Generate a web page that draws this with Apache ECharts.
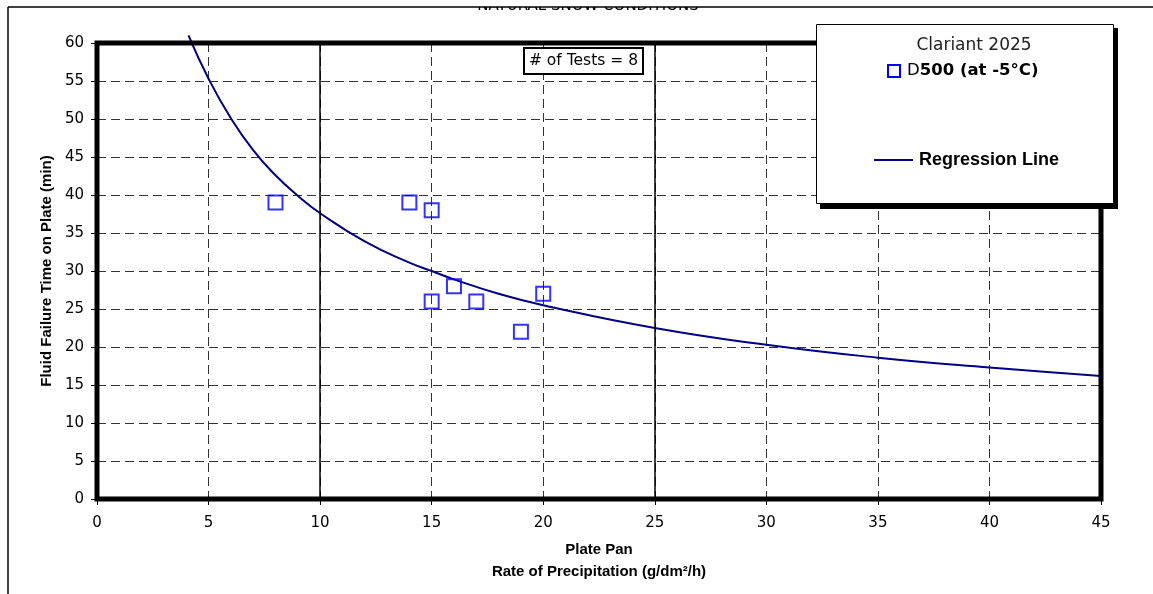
<!DOCTYPE html>
<html>
<head>
<meta charset="utf-8">
<script src="https://cdn.jsdelivr.net/npm/echarts@6/dist/echarts.min.js"></script>
<style>
html,body{margin:0;padding:0;background:#fff;}
#chart{width:1153px;height:594px;}
</style>
</head>
<body>
<div id="chart"></div>
<script>
// Measured tests: rate of precipitation (g/dm²/h) and failure time (min)
const testRate = [8, 14, 15, 15, 16, 17, 19, 20];
const testTime = [39, 39, 38, 26, 28, 26, 22, 27];
// Regression line
const regRate = [4.1, 5, 6, 7, 8, 9, 10, 12, 14, 15, 16, 18, 20, 25, 30, 35, 40, 45];
const regTime = [61.0, 55.3, 50.1, 45.9, 42.6, 39.9, 37.6, 33.9, 31.1, 30.0, 28.9, 27.0, 25.5, 22.5, 20.3, 18.6, 17.3, 16.2];
const solidGridX = [10, 25];
const chartTitle = 'NATURAL SNOW CONDITIONS';
const xTitle = 'Plate Pan\nRate of Precipitation (g/dm²/h)';
const yTitle = 'Fluid Failure Time on Plate (min)';
const legendTitle = 'Clariant 2025';
const seriesNameA = 'D';
const seriesNameB = '500 (at -5°C)';
const lineName = 'Regression Line';
const testsNote = '# of Tests = 8';

const FONT = '"DejaVu Sans", Verdana, sans-serif';
const BFONT = '"Liberation Sans", Arial, sans-serif';

const chart = echarts.init(document.getElementById('chart'), null, {renderer: 'canvas'});
const dash = [9, 5];

chart.setOption({
  animation: false,
  backgroundColor: '#fff',
  grid: {left: 97, top: 43, width: 1004, height: 456, show: true, borderColor: '#000', borderWidth: 5, backgroundColor: 'transparent', z: 5},
  xAxis: {
    type: 'value', min: 0, max: 45, interval: 5,
    name: xTitle, nameLocation: 'middle', nameGap: 40,
    nameTextStyle: {fontFamily: BFONT, fontWeight: 'bold', fontSize: 15, lineHeight: 22, color: '#000'},
    axisLine: {show: false},
    axisTick: {show: true, length: 6, lineStyle: {color: '#000', width: 1}},
    axisLabel: {fontFamily: FONT, fontSize: 15, color: '#000', margin: 17},
    splitLine: {show: true, lineStyle: {color: '#333', width: 1, type: dash}}
  },
  yAxis: {
    type: 'value', min: 0, max: 60, interval: 5,
    name: yTitle, nameLocation: 'middle', nameGap: 41, nameRotate: 90,
    nameTextStyle: {fontFamily: BFONT, fontWeight: 'bold', fontSize: 15, color: '#000'},
    axisLine: {show: false},
    axisTick: {show: true, length: 6, lineStyle: {color: '#000', width: 1}},
    axisLabel: {fontFamily: FONT, fontSize: 15, color: '#000', margin: 13},
    splitLine: {show: true, lineStyle: {color: '#333', width: 1, type: dash}}
  },
  series: [
    {
      name: lineName, type: 'line', smooth: true, symbol: 'none', clip: false, z: 3,
      data: regRate.map((x, i) => [x, regTime[i]]),
      lineStyle: {color: '#000080', width: 2},
      markLine: {
        silent: true, symbol: 'none', label: {show: false},
        lineStyle: {color: '#000', width: 1.5, type: 'solid'},
        data: solidGridX.map(v => ({xAxis: v}))
      }
    },
    {
      name: seriesNameA + seriesNameB, type: 'scatter', symbol: 'rect', symbolSize: 14, z: 4,
      data: testRate.map((x, i) => [x, testTime[i]]),
      itemStyle: {color: 'rgba(255,255,255,0)', borderColor: '#0000FF', borderWidth: 2}
    }
  ],
  graphic: [
    {type: 'text', z: 1, style: {x: 588, y: 14, text: chartTitle, fontFamily: FONT, fontSize: 15, fill: '#000', textAlign: 'center', textVerticalAlign: 'bottom'}, silent: true},
    {type: 'rect', z: 2, shape: {x: 0, y: 0, width: 1153, height: 7}, style: {fill: '#fff'}, silent: true},
    {type: 'line', z: 3, shape: {x1: 8, y1: 7, x2: 1153, y2: 7}, style: {stroke: '#000', lineWidth: 1.5}, silent: true},
    {type: 'line', z: 3, shape: {x1: 8, y1: 7, x2: 8, y2: 594}, style: {stroke: '#000', lineWidth: 1.5}, silent: true},
    // note box
    {type: 'rect', z: 20, shape: {x: 524, y: 48, width: 119, height: 26}, style: {fill: '#fff', stroke: '#000', lineWidth: 2}, silent: true},
    {type: 'text', z: 21, style: {x: 583.5, y: 61, text: testsNote, fontFamily: FONT, fontSize: 15.5, fill: '#000', textAlign: 'center', textVerticalAlign: 'middle'}, silent: true},
    // legend box
    {type: 'rect', z: 20, shape: {x: 820, y: 28, width: 298, height: 181}, style: {fill: '#000'}, silent: true},
    {type: 'rect', z: 21, shape: {x: 816.5, y: 24.5, width: 297, height: 179}, style: {fill: '#fff', stroke: '#000', lineWidth: 1}, silent: true},
    {type: 'text', z: 22, style: {x: 974, y: 46, text: legendTitle, fontFamily: FONT, fontSize: 17, fill: '#222', textAlign: 'center', textVerticalAlign: 'middle'}, silent: true},
    {type: 'rect', z: 22, shape: {x: 888, y: 65, width: 12, height: 12}, style: {fill: 'none', stroke: '#0000FF', lineWidth: 2}, silent: true},
    {type: 'text', z: 22, style: {x: 907, y: 71, text: '{a|' + seriesNameA + '}{b|' + seriesNameB + '}', textAlign: 'left', textVerticalAlign: 'middle',
      rich: {a: {fontFamily: FONT, fontSize: 16.5, fill: '#000', color: '#000'}, b: {fontFamily: FONT, fontSize: 16.5, fontWeight: 'bold', fill: '#000', color: '#000'}}}, silent: true},
    {type: 'line', z: 22, shape: {x1: 874, y1: 160, x2: 913, y2: 160}, style: {stroke: '#000080', lineWidth: 2}, silent: true},
    {type: 'text', z: 22, style: {x: 919, y: 160, text: lineName, fontFamily: BFONT, fontWeight: 'bold', fontSize: 18, fill: '#000', textAlign: 'left', textVerticalAlign: 'middle'}, silent: true}
  ]
});
</script>
</body>
</html>
